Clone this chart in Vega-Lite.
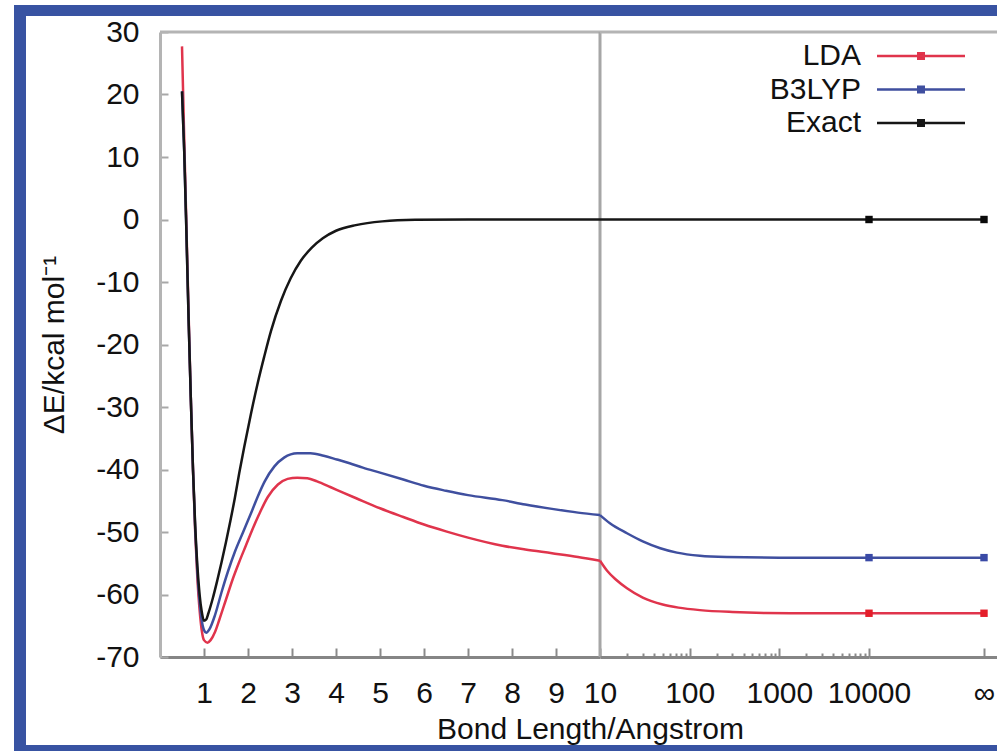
{
  "$schema": "https://vega.github.io/schema/vega-lite/v6.json",
  "description": "Dissociation curves of H2: LDA, B3LYP and exact energies against bond length, with a broken linear/log axis and the infinite-separation limit.",
  "background": "white",
  "padding": {"left": 14, "top": 5, "right": 0, "bottom": 0},
  "config": {
    "font": "Liberation Sans",
    "view": {"stroke": null},
    "axis": {
      "labelFlush": false,
      "labelOverlap": false,
      "grid": false,
      "labelFontSize": 30,
      "labelColor": "#111111",
      "titleFontSize": 30,
      "titleFontWeight": "normal",
      "titleColor": "#111111",
      "tickWidth": 2,
      "domainWidth": 3
    }
  },
  "datasets": {
    "curve": [
      {"method": "LDA", "bond": 0.5, "dE": 27.7},
      {"method": "LDA", "bond": 0.55, "dE": 13},
      {"method": "LDA", "bond": 0.6, "dE": -1},
      {"method": "LDA", "bond": 0.65, "dE": -15},
      {"method": "LDA", "bond": 0.7, "dE": -28.5},
      {"method": "LDA", "bond": 0.75, "dE": -40},
      {"method": "LDA", "bond": 0.8, "dE": -50},
      {"method": "LDA", "bond": 0.85, "dE": -57.5},
      {"method": "LDA", "bond": 0.9, "dE": -62.5},
      {"method": "LDA", "bond": 0.95, "dE": -65.8},
      {"method": "LDA", "bond": 1.0, "dE": -67.3},
      {"method": "LDA", "bond": 1.08, "dE": -67.7},
      {"method": "LDA", "bond": 1.15, "dE": -67.3},
      {"method": "LDA", "bond": 1.25, "dE": -66},
      {"method": "LDA", "bond": 1.35, "dE": -64},
      {"method": "LDA", "bond": 1.5, "dE": -60.8},
      {"method": "LDA", "bond": 1.65, "dE": -57.6},
      {"method": "LDA", "bond": 1.8, "dE": -54.8},
      {"method": "LDA", "bond": 1.95, "dE": -52.2},
      {"method": "LDA", "bond": 2.1, "dE": -49.6},
      {"method": "LDA", "bond": 2.25, "dE": -47.2},
      {"method": "LDA", "bond": 2.45, "dE": -44.4},
      {"method": "LDA", "bond": 2.68, "dE": -42.4},
      {"method": "LDA", "bond": 2.9, "dE": -41.5},
      {"method": "LDA", "bond": 3.12, "dE": -41.3},
      {"method": "LDA", "bond": 3.35, "dE": -41.4},
      {"method": "LDA", "bond": 3.57, "dE": -41.9},
      {"method": "LDA", "bond": 3.87, "dE": -42.8},
      {"method": "LDA", "bond": 4.16, "dE": -43.7},
      {"method": "LDA", "bond": 4.46, "dE": -44.6},
      {"method": "LDA", "bond": 5, "dE": -46.2},
      {"method": "LDA", "bond": 5.53, "dE": -47.6},
      {"method": "LDA", "bond": 6, "dE": -48.8},
      {"method": "LDA", "bond": 6.5, "dE": -49.9},
      {"method": "LDA", "bond": 7, "dE": -50.9},
      {"method": "LDA", "bond": 7.78, "dE": -52.2},
      {"method": "LDA", "bond": 8.3, "dE": -52.8},
      {"method": "LDA", "bond": 8.91, "dE": -53.4},
      {"method": "LDA", "bond": 9.5, "dE": -54},
      {"method": "LDA", "bond": 10, "dE": -54.6},
      {"method": "LDA", "bond": 12, "dE": -56.2},
      {"method": "LDA", "bond": 15, "dE": -57.6},
      {"method": "LDA", "bond": 20, "dE": -59},
      {"method": "LDA", "bond": 30, "dE": -60.5},
      {"method": "LDA", "bond": 50, "dE": -61.6},
      {"method": "LDA", "bond": 75, "dE": -62.1},
      {"method": "LDA", "bond": 130, "dE": -62.5},
      {"method": "LDA", "bond": 300, "dE": -62.8},
      {"method": "LDA", "bond": 700, "dE": -62.95},
      {"method": "LDA", "bond": 2000, "dE": -63},
      {"method": "LDA", "bond": 10000, "dE": -63},
      {"method": "B3LYP", "bond": 0.5, "dE": 20.5},
      {"method": "B3LYP", "bond": 0.55, "dE": 11},
      {"method": "B3LYP", "bond": 0.6, "dE": -2},
      {"method": "B3LYP", "bond": 0.65, "dE": -16},
      {"method": "B3LYP", "bond": 0.7, "dE": -28.5},
      {"method": "B3LYP", "bond": 0.75, "dE": -40},
      {"method": "B3LYP", "bond": 0.8, "dE": -49.5},
      {"method": "B3LYP", "bond": 0.85, "dE": -56.5},
      {"method": "B3LYP", "bond": 0.9, "dE": -61.2},
      {"method": "B3LYP", "bond": 0.95, "dE": -64.2},
      {"method": "B3LYP", "bond": 1.0, "dE": -65.7},
      {"method": "B3LYP", "bond": 1.05, "dE": -66.1},
      {"method": "B3LYP", "bond": 1.12, "dE": -65.6},
      {"method": "B3LYP", "bond": 1.25, "dE": -63.3},
      {"method": "B3LYP", "bond": 1.4, "dE": -59.6},
      {"method": "B3LYP", "bond": 1.55, "dE": -56.2},
      {"method": "B3LYP", "bond": 1.7, "dE": -53.2},
      {"method": "B3LYP", "bond": 1.89, "dE": -50},
      {"method": "B3LYP", "bond": 2.08, "dE": -46.8},
      {"method": "B3LYP", "bond": 2.23, "dE": -44.2},
      {"method": "B3LYP", "bond": 2.38, "dE": -41.9},
      {"method": "B3LYP", "bond": 2.6, "dE": -39.5},
      {"method": "B3LYP", "bond": 2.82, "dE": -38.1},
      {"method": "B3LYP", "bond": 3.12, "dE": -37.4},
      {"method": "B3LYP", "bond": 3.42, "dE": -37.4},
      {"method": "B3LYP", "bond": 3.72, "dE": -37.8},
      {"method": "B3LYP", "bond": 4.02, "dE": -38.4},
      {"method": "B3LYP", "bond": 4.31, "dE": -39},
      {"method": "B3LYP", "bond": 4.61, "dE": -39.7},
      {"method": "B3LYP", "bond": 5, "dE": -40.5},
      {"method": "B3LYP", "bond": 5.53, "dE": -41.6},
      {"method": "B3LYP", "bond": 6, "dE": -42.6},
      {"method": "B3LYP", "bond": 6.5, "dE": -43.4},
      {"method": "B3LYP", "bond": 7, "dE": -44.1},
      {"method": "B3LYP", "bond": 7.78, "dE": -44.9},
      {"method": "B3LYP", "bond": 8.3, "dE": -45.6},
      {"method": "B3LYP", "bond": 8.91, "dE": -46.3},
      {"method": "B3LYP", "bond": 9.5, "dE": -46.9},
      {"method": "B3LYP", "bond": 10, "dE": -47.3},
      {"method": "B3LYP", "bond": 12.9, "dE": -48.6},
      {"method": "B3LYP", "bond": 20, "dE": -50.2},
      {"method": "B3LYP", "bond": 30, "dE": -51.5},
      {"method": "B3LYP", "bond": 47, "dE": -52.6},
      {"method": "B3LYP", "bond": 72, "dE": -53.3},
      {"method": "B3LYP", "bond": 130, "dE": -53.8},
      {"method": "B3LYP", "bond": 257, "dE": -54},
      {"method": "B3LYP", "bond": 1000, "dE": -54.1},
      {"method": "B3LYP", "bond": 10000, "dE": -54.1},
      {"method": "Exact", "bond": 0.5, "dE": 20.5},
      {"method": "Exact", "bond": 0.55, "dE": 11},
      {"method": "Exact", "bond": 0.6, "dE": -2},
      {"method": "Exact", "bond": 0.65, "dE": -16},
      {"method": "Exact", "bond": 0.7, "dE": -28.5},
      {"method": "Exact", "bond": 0.75, "dE": -40},
      {"method": "Exact", "bond": 0.8, "dE": -49},
      {"method": "Exact", "bond": 0.85, "dE": -55.5},
      {"method": "Exact", "bond": 0.9, "dE": -60},
      {"method": "Exact", "bond": 0.95, "dE": -62.8},
      {"method": "Exact", "bond": 1.0, "dE": -64.2},
      {"method": "Exact", "bond": 1.05, "dE": -64},
      {"method": "Exact", "bond": 1.1, "dE": -63},
      {"method": "Exact", "bond": 1.2, "dE": -60.6},
      {"method": "Exact", "bond": 1.3, "dE": -57.8},
      {"method": "Exact", "bond": 1.4, "dE": -54.8},
      {"method": "Exact", "bond": 1.5, "dE": -51.6},
      {"method": "Exact", "bond": 1.6, "dE": -48.2},
      {"method": "Exact", "bond": 1.7, "dE": -44.6},
      {"method": "Exact", "bond": 1.8, "dE": -40.6},
      {"method": "Exact", "bond": 1.92, "dE": -36.2},
      {"method": "Exact", "bond": 2.07, "dE": -31},
      {"method": "Exact", "bond": 2.22, "dE": -26.2},
      {"method": "Exact", "bond": 2.37, "dE": -21.9},
      {"method": "Exact", "bond": 2.52, "dE": -17.9},
      {"method": "Exact", "bond": 2.75, "dE": -13},
      {"method": "Exact", "bond": 2.97, "dE": -9.4},
      {"method": "Exact", "bond": 3.2, "dE": -6.6},
      {"method": "Exact", "bond": 3.45, "dE": -4.5},
      {"method": "Exact", "bond": 3.7, "dE": -3},
      {"method": "Exact", "bond": 4, "dE": -1.8},
      {"method": "Exact", "bond": 4.45, "dE": -0.9},
      {"method": "Exact", "bond": 5.05, "dE": -0.3},
      {"method": "Exact", "bond": 5.8, "dE": -0.05},
      {"method": "Exact", "bond": 7, "dE": 0},
      {"method": "Exact", "bond": 10, "dE": 0},
      {"method": "Exact", "bond": 100, "dE": 0},
      {"method": "Exact", "bond": 10000, "dE": 0}
    ],
    "limit": [
      {"method": "LDA", "pos": "10000", "dE": -63},
      {"method": "LDA", "pos": "∞", "dE": -63},
      {"method": "B3LYP", "pos": "10000", "dE": -54.1},
      {"method": "B3LYP", "pos": "∞", "dE": -54.1},
      {"method": "Exact", "pos": "10000", "dE": 0},
      {"method": "Exact", "pos": "∞", "dE": 0}
    ]
  },
  "columns": 5,
  "spacing": 0,
  "bounds": "flush",
  "align": "each",
  "resolve": {"scale": {"x": "independent", "y": "independent", "stroke": "independent", "fill": "independent"}},
  "concat": [
    {"width": 12, "height": 11, "data": {"values": []}, "mark": "rect", "encoding": {}, "view": {"fill": "#3853a2"}},
    {"width": 134, "height": 11, "data": {"values": []}, "mark": "rect", "encoding": {}, "view": {"fill": "#3853a2"}},
    {"width": 440, "height": 11, "data": {"values": []}, "mark": "rect", "encoding": {}, "view": {"fill": "#3853a2"}},
    {"width": 269, "height": 11, "data": {"values": []}, "mark": "rect", "encoding": {}, "view": {"fill": "#3853a2"}},
    {"width": 128, "height": 11, "data": {"values": []}, "mark": "rect", "encoding": {}, "view": {"fill": "#3853a2"}},

    {"width": 12, "height": 16, "data": {"values": []}, "mark": "rect", "encoding": {}, "view": {"fill": "#3853a2"}},
    {"width": 134, "height": 16, "data": {"values": []}, "mark": "rect", "encoding": {}},
    {"width": 440, "height": 16, "data": {"values": []}, "mark": "rect", "encoding": {}},
    {"width": 269, "height": 16, "data": {"values": []}, "mark": "rect", "encoding": {}},
    {"width": 128, "height": 16, "data": {"values": []}, "mark": "rect", "encoding": {}},

    {"width": 12, "height": 625, "data": {"values": []}, "mark": "rect", "encoding": {}, "view": {"fill": "#3853a2"}},
    {"width": 134, "height": 625, "data": {"values": []}, "mark": "rect", "encoding": {}},
    {
      "width": 440,
      "height": 625,
      "data": {"name": "curve"},
      "layer": [
        {
          "data": {"values": [{}]},
          "mark": {"type": "rule", "color": "#b4b4b4", "strokeWidth": 3},
          "encoding": {"y": {"datum": 30, "type": "quantitative"}}
        },
        {
          "data": {"values": [{}]},
          "mark": {"type": "rule", "color": "#a6a6a6", "strokeWidth": 3},
          "encoding": {"x": {"datum": 10, "type": "quantitative"}}
        },
        {
          "transform": [{"filter": "datum.bond <= 10"}],
          "mark": {"type": "line", "interpolate": "monotone", "strokeWidth": 2.5},
          "encoding": {
            "x": {
              "field": "bond",
              "type": "quantitative",
              "scale": {"domain": [0.1, 10]},
              "axis": {
                "values": [1, 2, 3, 4, 5, 6, 7, 8, 9, 10],
                "format": "d",
                "tickSize": -9,
                "tickColor": "#8a8a8a",
                "domainColor": "#858585",
                "labelPadding": 30,
                "title": "Bond Length/Angstrom",
                "titleX": 430,
                "titlePadding": 6
              }
            },
            "y": {
              "field": "dE",
              "type": "quantitative",
              "scale": {"domain": [-70, 30]},
              "axis": {
                "values": [-70, -60, -50, -40, -30, -20, -10, 0, 10, 20, 30],
                "labelExpr": "replace(datum.label, '−', '-')",
                "tickSize": -8,
                "tickColor": "#a8a8a8",
                "domainColor": "#b4b4b4",
                "labelPadding": 29,
                "title": "ΔE/kcal mol⁻¹",
                "titlePadding": 26
              }
            },
            "stroke": {
              "field": "method",
              "type": "nominal",
              "scale": {"domain": ["LDA", "B3LYP", "Exact"], "range": ["#e0344c", "#3f4f9f", "#161616"]},
              "legend": null
            }
          }
        }
      ]
    },
    {
      "width": 269,
      "height": 625,
      "data": {"name": "curve"},
      "layer": [
        {
          "data": {"values": [{}]},
          "mark": {"type": "rule", "color": "#b4b4b4", "strokeWidth": 3},
          "encoding": {"y": {"datum": 30, "type": "quantitative", "axis": null}}
        },
        {
          "transform": [{"filter": "datum.bond >= 10"}],
          "mark": {"type": "line", "interpolate": "monotone", "strokeWidth": 2.5},
          "encoding": {
            "x": {
              "field": "bond",
              "type": "quantitative",
              "scale": {"type": "log", "domain": [10, 10000]},
              "axis": {
                "values": [20, 30, 40, 50, 60, 70, 80, 90, 100, 200, 300, 400, 500, 600, 700, 800, 900, 1000, 2000, 3000, 4000, 5000, 6000, 7000, 8000, 9000, 10000],
                "labelExpr": "datum.value == 100 || datum.value == 1000 || datum.value == 10000 ? format(datum.value, 'd') : ''",
                "tickSize": {"condition": {"test": "datum.value == 100 || datum.value == 1000 || datum.value == 10000", "value": -9}, "value": -4},
                "tickColor": "#8a8a8a",
                "domainColor": "#858585",
                "labelPadding": 30,
                "title": null
              }
            },
            "y": {"field": "dE", "type": "quantitative", "scale": {"domain": [-70, 30]}, "axis": null},
            "stroke": {
              "field": "method",
              "type": "nominal",
              "scale": {"domain": ["LDA", "B3LYP", "Exact"], "range": ["#e0344c", "#3f4f9f", "#161616"]},
              "legend": null
            }
          }
        }
      ]
    },
    {
      "width": 128,
      "height": 625,
      "data": {"name": "limit"},
      "layer": [
        {
          "data": {"values": [{}]},
          "mark": {"type": "rule", "color": "#b4b4b4", "strokeWidth": 3},
          "encoding": {"y": {"datum": 30, "type": "quantitative", "axis": null}}
        },
        {
          "mark": {"type": "line", "strokeWidth": 2.5},
          "encoding": {
            "x": {
              "field": "pos",
              "type": "ordinal",
              "scale": {"type": "point", "domain": ["10000", "∞"], "padding": 0.0565, "align": 0},
              "axis": {
                "values": ["∞"],
                "labelAngle": 0,
                "tickSize": -9,
                "tickColor": "#8a8a8a",
                "domainColor": "#858585",
                "labelPadding": 30,
                "title": null
              }
            },
            "y": {"field": "dE", "type": "quantitative", "scale": {"domain": [-70, 30]}, "axis": null},
            "stroke": {
              "field": "method",
              "type": "nominal",
              "scale": {"domain": ["LDA", "B3LYP", "Exact"], "range": ["#e0344c", "#3f4f9f", "#161616"]},
              "legend": {
                "orient": "none",
                "legendX": 37,
                "legendY": 9,
                "title": null,
                "symbolType": "M-4,0H4M-0.25,-0.25H0.25V0.25H-0.25Z",
                "symbolSize": 484,
                "symbolStrokeWidth": 2.5,
                "labelFontSize": 30,
                "labelColor": "#111111",
                "labelAlign": "right",
                "labelOffset": -75,
                "padding": 0,
                "rowPadding": 3.5
              }
            }
          }
        },
        {
          "mark": {"type": "square", "filled": true, "size": 55, "opacity": 1},
          "encoding": {
            "x": {"field": "pos", "type": "ordinal"},
            "y": {"field": "dE", "type": "quantitative", "axis": null},
            "fill": {
              "field": "method",
              "type": "nominal",
              "scale": {"domain": ["LDA", "B3LYP", "Exact"], "range": ["#e41e2a", "#3a4aa6", "#0a0a0a"]},
              "legend": null
            }
          }
        }
      ]
    },

    {"width": 12, "height": 88, "data": {"values": []}, "mark": "rect", "encoding": {}, "view": {"fill": "#3853a2"}},
    {"width": 134, "height": 88, "data": {"values": []}, "mark": "rect", "encoding": {}},
    {"width": 440, "height": 88, "data": {"values": []}, "mark": "rect", "encoding": {}},
    {"width": 269, "height": 88, "data": {"values": []}, "mark": "rect", "encoding": {}},
    {"width": 128, "height": 88, "data": {"values": []}, "mark": "rect", "encoding": {}},

    {"width": 12, "height": 6, "data": {"values": []}, "mark": "rect", "encoding": {}, "view": {"fill": "#3853a2"}},
    {"width": 134, "height": 6, "data": {"values": []}, "mark": "rect", "encoding": {}, "view": {"fill": "#3853a2"}},
    {"width": 440, "height": 6, "data": {"values": []}, "mark": "rect", "encoding": {}, "view": {"fill": "#3853a2"}},
    {"width": 269, "height": 6, "data": {"values": []}, "mark": "rect", "encoding": {}, "view": {"fill": "#3853a2"}},
    {"width": 128, "height": 6, "data": {"values": []}, "mark": "rect", "encoding": {}, "view": {"fill": "#3853a2"}}
  ]
}
